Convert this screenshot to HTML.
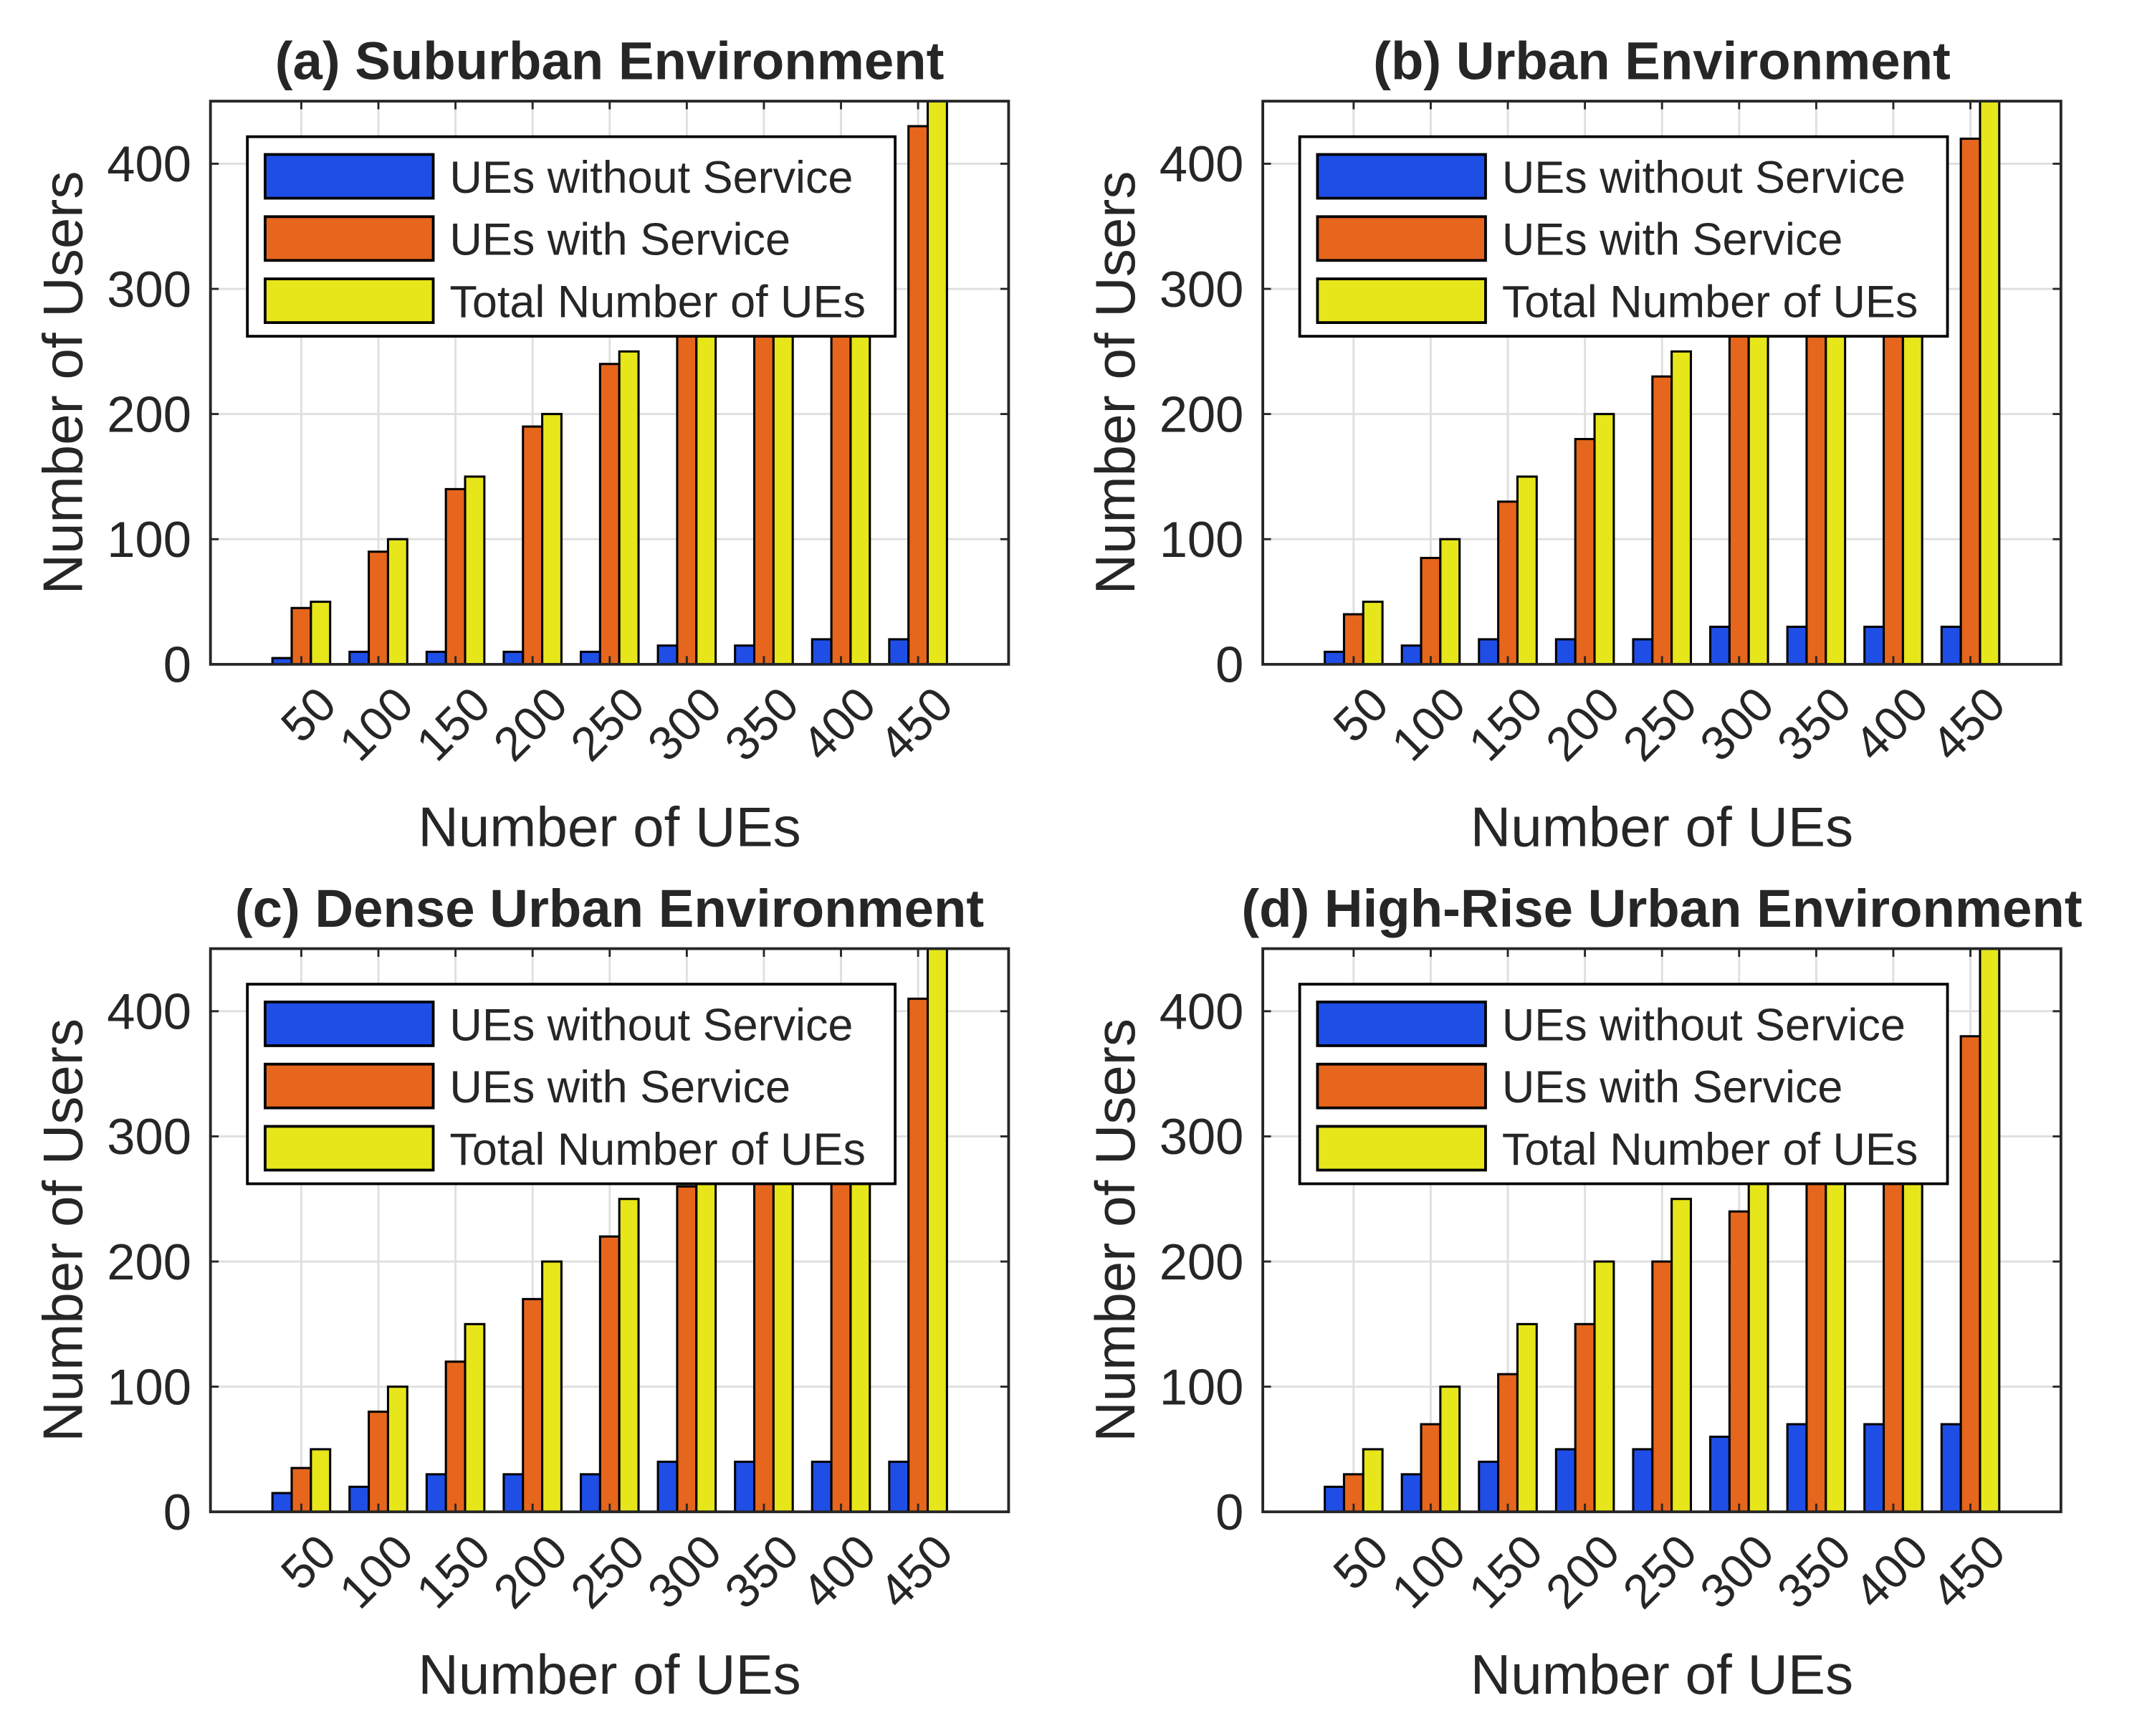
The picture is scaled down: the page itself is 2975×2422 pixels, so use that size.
<!DOCTYPE html>
<html><head><meta charset="utf-8"><style>
html,body{margin:0;padding:0;background:#fff;}
svg{display:block;}
text{font-family:"Liberation Sans",Arial,sans-serif;fill:#262626;}
</style></head><body>
<svg id="fig" xmlns="http://www.w3.org/2000/svg" width="2975" height="2422" viewBox="0 0 1560 1270" preserveAspectRatio="none"></svg>
<script>
const categories = [50,100,150,200,250,300,350,400,450];
const titles = ["(a) Suburban Environment","(b) Urban Environment","(c) Dense Urban Environment","(d) High-Rise Urban Environment"];
const blueA = [5,10,10,10,10,15,15,20,20];
const orangeA = [45,90,140,190,240,285,335,380,430];
const blueB = [10,15,20,20,20,30,30,30,30];
const orangeB = [40,85,130,180,230,270,320,370,420];
const blueC = [15,20,30,30,30,40,40,40,40];
const orangeC = [35,80,120,170,220,260,310,360,410];
const blueD = [20,30,40,50,50,60,70,70,70];
const orangeD = [30,70,110,150,200,240,280,330,380];
const totals = [50,100,150,200,250,300,350,400,450];
const yTicks = [0,100,200,300,400];
const legendLabels = ["UEs without Service","UEs with Service","Total Number of UEs"];
const colors = ["#1f4ee6","#e5661c","#e6e61a"];

const svg = document.getElementById('fig');
const NS = "http://www.w3.org/2000/svg";
function mk(tag, attrs, parent){const e=document.createElementNS(NS,tag);for(const k in attrs)e.setAttribute(k,attrs[k]);(parent||svg).appendChild(e);return e;}

const panels = [
 {dx:0,dy:0,blue:blueA,orange:orangeA,name:'suburban'},
 {dx:770,dy:0,blue:blueB,orange:orangeB,name:'urban'},
 {dx:0,dy:620,blue:blueC,orange:orangeC,name:'dense-urban'},
 {dx:770,dy:620,blue:blueD,orange:orangeD,name:'high-rise-urban'}
];

panels.forEach((p,pi)=>{
  const L=154+p.dx, R=738+p.dx, T=74+p.dy, B=486+p.dy;
  const W=R-L;
  const yMax=450;
  const y = v => B - (v/yMax)*(B-T);
  const x = i => L + W*0.1138 + i*W*0.0966;
  const bw = W*0.0241;
  const g = mk('g',{});
  
  
  mk('rect',{x:L,y:T,width:W,height:B-T,fill:'#fff'},g);
  yTicks.forEach(t=>{ if(t>0){ const gl=mk('line',{x1:L,x2:R,y1:y(t),y2:y(t),stroke:'#dfdfdf','stroke-width':1.5},g);
     }});
  categories.forEach((c,i)=>{ const gl=mk('line',{x1:x(i),x2:x(i),y1:T,y2:B,stroke:'#dfdfdf','stroke-width':1.5},g);
     });
  const series=[p.blue,p.orange,totals];
  const snames=['bar-without-service','bar-with-service','bar-total'];
  categories.forEach((c,i)=>{
    series.forEach((s,si)=>{
      const v=Math.min(s[i],yMax);
      const bx = x(i)+(si-1)*bw - bw/2;
      const r=mk('rect',{x:bx,y:y(v),width:bw,height:B-y(v),fill:colors[si],stroke:'#000','stroke-width':1.6},g);
      
      
    });
  });
  yTicks.forEach(t=>{
    mk('line',{x1:L,x2:L+6,y1:y(t),y2:y(t),stroke:'#262626','stroke-width':1.5},g);
    mk('line',{x1:R,x2:R-6,y1:y(t),y2:y(t),stroke:'#262626','stroke-width':1.5},g);
    const tl=mk('text',{x:L-14,y:y(t)+13,'text-anchor':'end','font-size':37},g);
    tl.textContent=t;
     
  });
  categories.forEach((c,i)=>{
    mk('line',{x1:x(i),x2:x(i),y1:B,y2:B-6,stroke:'#262626','stroke-width':1.5},g);
    mk('line',{x1:x(i),x2:x(i),y1:T,y2:T+6,stroke:'#262626','stroke-width':1.5},g);
    const tx=x(i)+10, ty=B+14;
    const tl=mk('text',{x:tx,y:ty,'text-anchor':'end','font-size':35,transform:`rotate(-45 ${tx} ${ty})`,'dominant-baseline':'hanging'},g);
    tl.textContent=c;
     
  });
  mk('rect',{x:L,y:T,width:W,height:B-T,fill:'none',stroke:'#262626','stroke-width':2},g);
  const tt=mk('text',{x:(L+R)/2,y:T-16,'text-anchor':'middle','font-size':39,'font-weight':'bold',fill:'#000'},g);
  tt.textContent=titles[pi];
   
  const xt=mk('text',{x:(L+R)/2,y:B+133,'text-anchor':'middle','font-size':41},g);
  xt.textContent='Number of UEs';
   
  const yx=L-94, yy=(T+B)/2;
  const yt=mk('text',{x:yx,y:yy,'text-anchor':'middle','font-size':41,transform:`rotate(-90 ${yx} ${yy})`},g);
  yt.textContent='Number of Users';
   
  const lg=mk('g',{},g);
   
  mk('rect',{x:L+27,y:T+26,width:474,height:146,fill:'#fff',stroke:'#000','stroke-width':2},lg);
  legendLabels.forEach((lab,li)=>{
    const ry=T+39+li*45.5;
    const sw=mk('rect',{x:L+40,y:ry,width:123,height:32,fill:colors[li],stroke:'#000','stroke-width':2},lg);
     
    const lt=mk('text',{x:L+175,y:ry+28,'font-size':33,fill:'#000'},lg);
    lt.textContent=lab;
     
  });
});
</script>
</body></html>
